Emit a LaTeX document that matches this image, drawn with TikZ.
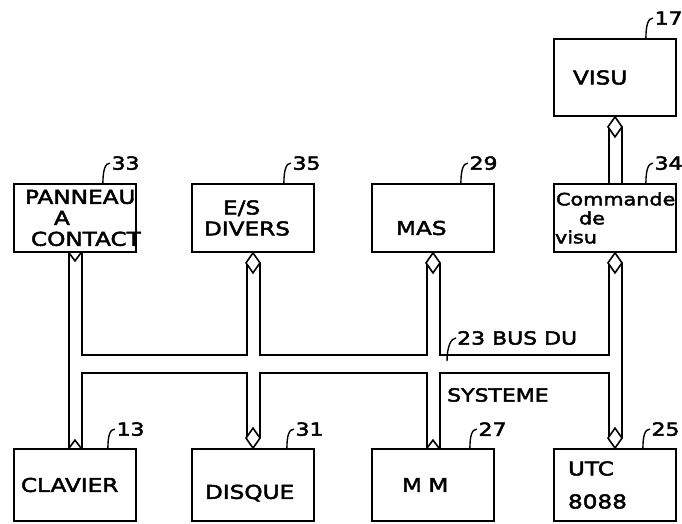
\documentclass[tikz,border=0pt]{standalone}
\usepackage{fontspec}
\setmainfont{DejaVu Sans}[FakeStretch=1.22,FakeBold=2.5]
\usetikzlibrary{shapes.geometric}
\hyphenpenalty=10000
\tikzset{
  unit/.style={draw,line width=1.8pt,minimum width=122pt,text width=114pt,
    inner xsep=4pt,inner ysep=0pt,align=left,font=\fontsize{19}{21}\selectfont},
  toprow/.style={unit,minimum height=68pt},
  lowrow/.style={unit,minimum height=72pt},
  wall/.style={line width=15pt},
  core/.style={line width=11pt,draw=white},
  buswall/.style={line width=20pt},
  buscore/.style={line width=16pt,draw=white},
  kite/.style={diamond,draw,fill=white,line width=1.6pt,minimum width=14pt,
    minimum height=20pt,inner sep=0pt,outer sep=0pt},
  notch/.style={line width=1.6pt},
  leader/.style={line width=1.4pt},
  refnum/.style={anchor=west,inner sep=1pt,font=\fontsize{18}{20}\selectfont},
}

\begin{document}
\begin{tikzpicture}[x=1pt,y=-1pt]
\useasboundingbox (0,0) rectangle (682,524);

% upper units
\node[unit,minimum height=77pt] (visu) at (615,77.5) {\hspace*{15pt}VISU};
\node[toprow] (panneau) at (75,218)
  {\hspace*{7pt}PANNEAU\\\hspace*{36pt}A\\\hspace*{13pt}CONTACT};
\node[toprow] (es) at (253,218) {\hspace*{27pt}E/S\\\hspace*{8pt}DIVERS};
\node[toprow] (mas) at (433,218)
  {\hspace*{20pt}\raisebox{-10pt}[\height][\depth]{MAS}};
\node[toprow,font=\fontsize{17}{19}\selectfont] (cmd) at (615,218)
  {\hspace*{-2pt}Commande\\\hspace*{21pt}de\\\hspace*{-3pt}visu};

% lower units
\node[lowrow] (clavier) at (75,485) {\hspace*{3pt}CLAVIER};
\node[lowrow] (disque) at (253,485)
  {\hspace*{9pt}\raisebox{-8pt}[\height][\depth]{DISQUE}};
\node[lowrow] (mm) at (433,485) {\hspace*{26pt}M M};
\node[lowrow] (utc) at (615,485) {\hspace*{10pt}UTC\\[12pt]\hspace*{10pt}8088};

% system bus
\coordinate (busW) at (75,364);
\coordinate (busE) at (615,364);
\foreach \layer in {wall,core} {
  \draw[\layer] (panneau) -- (clavier);
  \draw[\layer,shorten <=10pt,shorten >=10pt] (es) -- (disque);
  \draw[\layer,shorten <=10pt] (mas) -- (mm);
  \draw[\layer,shorten <=10pt,shorten >=10pt] (cmd) -- (utc);
  \draw[\layer,shorten <=10pt] (visu) -- (cmd);
  \draw[bus\layer] (busW) -- (busE);
}

% pipe ends
\node[kite,anchor=north] (visuTip) at (visu.south) {};
\node[kite,anchor=north] (esTip) at (es.south) {};
\node[kite,anchor=north] (masTip) at (mas.south) {};
\node[kite,anchor=north] (cmdTip) at (cmd.south) {};
\node[kite,anchor=south] (disqueTip) at (disque.north) {};
\node[kite,anchor=south] (utcTip) at (utc.north) {};
\draw[notch] ([xshift=-6pt]panneau.south) -- ([yshift=-8pt]panneau.south)
  -- ([xshift=6pt]panneau.south);
\draw[notch] ([xshift=-6pt]clavier.north) -- ([yshift=8pt]clavier.north)
  -- ([xshift=6pt]clavier.north);
\draw[notch] ([xshift=-6pt]mm.north) -- ([yshift=8pt]mm.north)
  -- ([xshift=6pt]mm.north);

% reference numerals
\draw[leader] ([xshift=-31pt]visu.north east) .. controls +(0,-12) and +(-5,0) .. +(7,-20) node[refnum] (n17) {17};
\draw[leader] ([xshift=-34pt]panneau.north east) .. controls +(0,-12) and +(-5,0) .. +(7,-20) node[refnum] (n33) {33};
\draw[leader] ([xshift=-31pt]es.north east) .. controls +(0,-12) and +(-5,0) .. +(7,-20) node[refnum] (n35) {35};
\draw[leader] ([xshift=-34pt]mas.north east) .. controls +(0,-12) and +(-5,0) .. +(7,-20) node[refnum] (n29) {29};
\draw[leader] ([xshift=-31pt]cmd.north east) .. controls +(0,-12) and +(-5,0) .. +(7,-20) node[refnum] (n34) {34};
\draw[leader] ([xshift=-29pt]clavier.north east) .. controls +(0,-12) and +(-5,0) .. +(7,-19) node[refnum] (n13) {13};
\draw[leader] ([xshift=-28pt]disque.north east) .. controls +(0,-12) and +(-5,0) .. +(7,-19) node[refnum] (n31) {31};
\draw[leader] ([xshift=-25pt]mm.north east) .. controls +(0,-12) and +(-5,0) .. +(7,-19) node[refnum] (n27) {27};
\draw[leader] ([xshift=-34pt]utc.north east) .. controls +(0,-12) and +(-5,0) .. +(7,-19) node[refnum] (n25) {25};

% bus legend
\node[refnum] (busLabel) at (456,338) {23 BUS DU};
\node[refnum] (sysLabel) at (446,395) {SYSTEME};
\coordinate (busTap) at (447,361);
\draw[leader] (busTap) .. controls +(0,-14) and +(-5,0) .. (busLabel.west);
\end{tikzpicture}
\end{document}
